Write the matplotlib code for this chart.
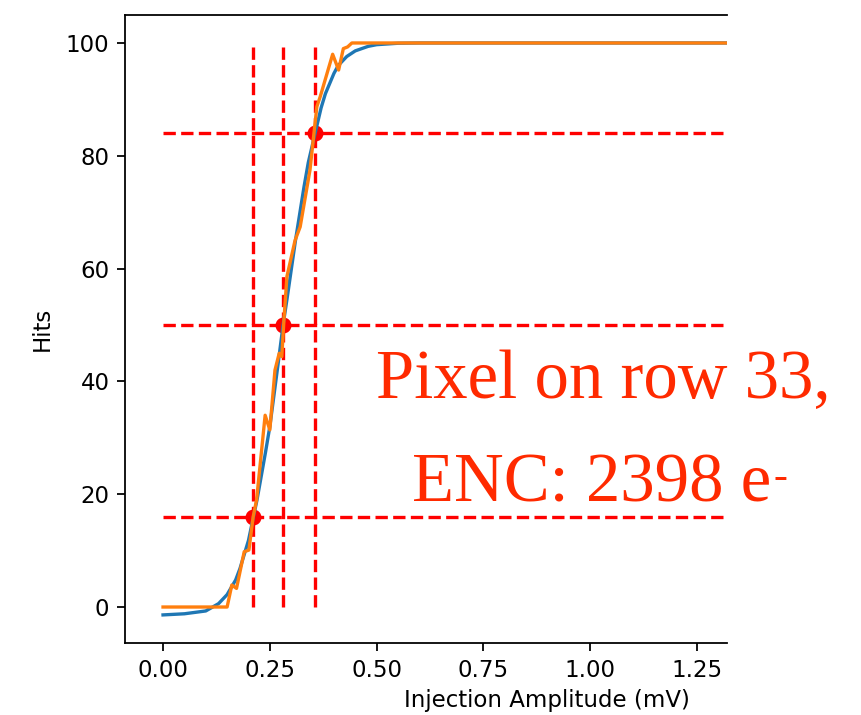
import matplotlib
matplotlib.use("Agg")
import matplotlib.pyplot as plt

# ---- data ----
fit_x = [0.00, 0.05, 0.10, 0.13, 0.15, 0.17, 0.18, 0.20, 0.22, 0.24, 0.25, 0.27,
         0.281, 0.29, 0.31, 0.33, 0.34, 0.356, 0.37, 0.38, 0.40, 0.41, 0.43, 0.45,
         0.48, 0.50, 0.55, 0.60, 0.70, 0.80, 1.00, 1.20, 1.40, 1.60, 1.85]
fit_y = [-1.4, -1.2, -0.7, 0.6, 2.2, 4.8, 6.8, 11.8, 19.0, 27.5, 32.0, 43.5,
         50.0, 54.5, 65.0, 74.5, 78.8, 84.0, 88.5, 91.0, 94.6, 96.0, 97.6, 98.6,
         99.4, 99.7, 99.95, 100.0, 100.0, 100.0, 100.0, 100.0, 100.0, 100.0, 100.0]

data_x = [0.00, 0.150, 0.161, 0.172, 0.190, 0.201, 0.211, 0.219, 0.239, 0.250,
          0.262, 0.272, 0.278, 0.283, 0.290, 0.309, 0.321, 0.344, 0.360, 0.368,
          0.397, 0.411, 0.422, 0.432, 0.442, 1.85]
data_y = [0, 0, 3.9, 3.3, 9.8, 10.1, 16.0, 19.0, 34.0, 31.4,
          42.0, 45.0, 44.4, 50.9, 58.6, 65.0, 67.4, 77.5, 88.7, 90.5,
          98.0, 95.2, 99.0, 99.3, 100.0, 100.0]

levels_y = [16, 50, 84]
levels_x = [0.211, 0.281, 0.356]

x_ticks = [0.00, 0.25, 0.50, 0.75, 1.00, 1.25]
y_ticks = [0, 20, 40, 60, 80, 100]

title_line1 = "Pixel on row 33,"
title_line2 = "ENC: 2398 e"
title_sup = "-"

# ---- figure ----
S = 1.6
fig = plt.figure(figsize=(8.62, 7.15), dpi=100)
ax = fig.add_axes([125/862, 72/715, 602/862, 628/715])

for v in levels_x:
    ax.vlines(v, 0, 100, colors='red', linestyles='--', linewidth=1.5*S, zorder=1)
for h in levels_y:
    ax.hlines(h, 0, 1.85, colors='red', linestyles='--', linewidth=1.5*S, zorder=1)
ax.plot(levels_x, levels_y, 'o', color='red', markersize=10.5, zorder=1.5)

ax.plot(fit_x, fit_y, color='#1f77b4', linewidth=1.5*S, zorder=2)
ax.plot(data_x, data_y, color='#ff7f0e', linewidth=1.5*S, zorder=3)

ax.set_xlim(-0.089, 1.320)
ax.set_ylim(-6.38, 104.96)
ax.set_xticks(x_ticks)
ax.set_xticklabels([f"{t:.2f}" for t in x_ticks])
ax.set_yticks(y_ticks)

ax.spines['right'].set_visible(False)
for s in ['left', 'top', 'bottom']:
    ax.spines[s].set_linewidth(0.8*S)
ax.tick_params(labelsize=16.5, length=3.5*S, width=0.8*S, pad=3.5*S)

ax.set_ylabel("Hits", fontsize=16.5, labelpad=9)
ax.set_xlabel("Injection Amplitude (mV)", fontsize=16.5)
ax.xaxis.set_label_coords((547-125)/602, -0.074)

serif = ['Liberation Serif', 'DejaVu Serif']
red = '#ff2a00'
fig.text(603/862, 1 - 398/715, title_line1, ha='center', va='baseline',
         family=serif, fontsize=49.5, color=red)
# second line: main text + small raised minus sign
t2 = fig.text(592/862, 1 - 502/715, title_line2, ha='center', va='baseline',
              family=serif, fontsize=49.5, color=red)
fig.canvas.draw()
bb = t2.get_window_extent(renderer=fig.canvas.get_renderer())
fig.text((bb.x1 + 2) / 862, (715 - 478) / 715, title_sup, ha='left', va='center',
         family=serif, fontsize=30, color=red)

fig.savefig("out.png", dpi=100)
